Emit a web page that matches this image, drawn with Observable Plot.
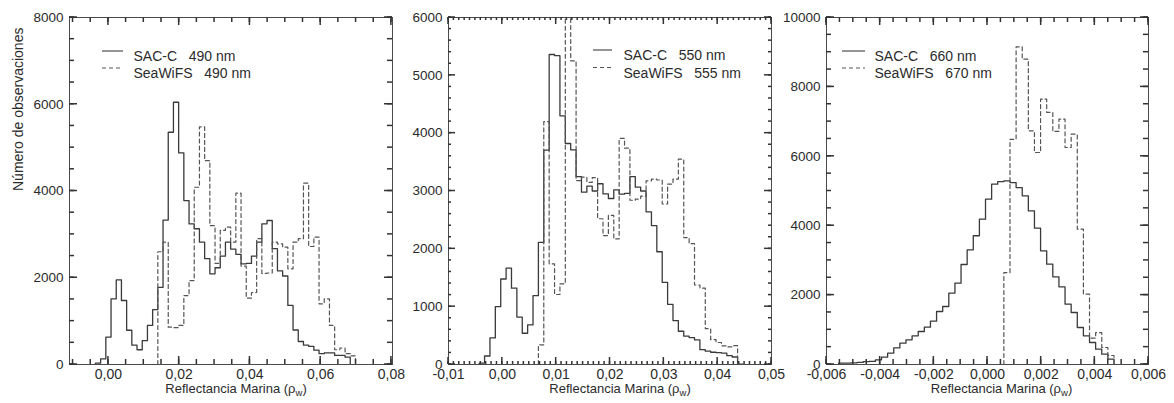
<!DOCTYPE html>
<html>
<head>
<meta charset="utf-8">
<script src="https://cdn.jsdelivr.net/npm/d3@7"></script>
<script src="https://cdn.jsdelivr.net/npm/@observablehq/plot@0.6"></script>
<style>
  html, body { margin: 0; padding: 0; background: #fff; }
  #chart { position: relative; width: 1174px; height: 403px; overflow: hidden; background: #fff; }
  #chart > svg { position: absolute; top: 0; }
</style>
</head>
<body>
<div id="chart"></div>
<script>
// ---------------- DATA ----------------
// Panel 1: 490 nm (first bin edge, bin width, counts per bin)
const sac490Start = -0.00367;
const bin490 = 0.00147;
const sac490 = [30, 130, 630, 1514, 1951, 1475, 790, 445, 340, 550, 900, 1265, 1780, 3330, 5355, 6046, 4880, 3780, 3240, 3130, 2820, 2440, 2090, 2230, 2500, 2820, 2660, 2540, 2320, 2330, 2500, 2820, 3243, 3320, 2670, 2160, 2040, 1362, 795, 530, 445, 420, 330, 250, 270, 270, 210, 210, 170];
const sea490Start = 0.01397;
const sea490 = [2600, 2820, 860, 850, 900, 1590, 1936, 4087, 5480, 4700, 3200, 2330, 3090, 3165, 2820, 3950, 2270, 1530, 1660, 2900, 2100, 2110, 2820, 2780, 2705, 2205, 2820, 2900, 4180, 2720, 2935, 1400, 1514, 900, 340, 380, 250, 200];

// Panel 2: 550 / 555 nm
const sac550Start = -0.0043;
const bin550 = 0.001;
const sac550 = [25, 147, 460, 1000, 1478, 1665, 1320, 820, 540, 685, 1190, 2112, 3706, 5360, 5340, 4300, 3821, 3710, 3250, 2980, 3085, 3000, 3125, 2950, 2870, 3020, 2945, 2960, 3250, 3066, 3000, 2640, 2403, 1950, 1420, 1040, 760, 575, 490, 465, 425, 257, 230, 212, 205, 198, 153, 130, 8];
const sea555Start = 0.0067;
const sea555 = [340, 4200, 1740, 1210, 1395, 6500, 5250, 3180, 3240, 3150, 3230, 2520, 2230, 2580, 2173, 3910, 3740, 2840, 2860, 2910, 3176, 3205, 3190, 2775, 3118, 3205, 3550, 2194, 2090, 1375, 1320, 620, 430, 380, 323, 305, 325];

// Panel 3: 660 / 670 nm
const sac660Start = -0.005546;
const bin660 = 0.000228;
const sac660 = [40, 40, 45, 60, 80, 90, 134, 211, 326, 480, 615, 711, 826, 951, 1076, 1249, 1527, 1672, 2056, 2344, 2882, 3304, 3710, 4188, 4765, 5196, 5273, 5292, 5244, 5100, 4860, 4428, 3928, 3276, 2892, 2527, 2238, 1738, 1499, 1066, 826, 634, 442, 298, 154];
const sea670Start = 0.00061;
const sea670 = [2650, 6490, 9155, 8800, 6735, 6110, 7646, 7263, 6716, 7070, 6254, 6637, 3900, 2026, 760, 920, 490, 260];

// Axis ticks (labelled)
const xTicks490 = [0, 0.02, 0.04, 0.06, 0.08];
const yTicks490 = [0, 2000, 4000, 6000, 8000];
const xTicks550 = [-0.01, 0, 0.01, 0.02, 0.03, 0.04, 0.05];
const yTicks550 = [0, 1000, 2000, 3000, 4000, 5000, 6000];
const xTicks660 = [-0.006, -0.004, -0.002, 0, 0.002, 0.004, 0.006];
const yTicks660 = [0, 2000, 4000, 6000, 8000, 10000];

// Legend and axis texts
const legend490 = ["SAC-C\u00a0\u00a0\u00a0490 nm", "SeaWiFS\u00a0\u00a0\u00a0490 nm"];
const legend550 = ["SAC-C\u00a0\u00a0\u00a0550 nm", "SeaWiFS\u00a0\u00a0\u00a0555 nm"];
const legend660 = ["SAC-C\u00a0\u00a0\u00a0660 nm", "SeaWiFS\u00a0\u00a0\u00a0670 nm"];
const xTitle = "Reflectancia Marina (ρw)";
const yTitle = "Número de observaciones";

// ---------------- HELPERS ----------------
const fontFamily = "'Liberation Sans', Arial, Helvetica, sans-serif";
const textColor = "#2b2b2b";
const axisColor = "#333333";
const HEIGHT = 403, MT = 17, MB = 39;

function steps(start, width, values) {
  const pts = [{x: start, y: 0}];
  values.forEach((v, i) => pts.push({x: start + i * width, y: v}));
  pts.push({x: start + values.length * width, y: 0});
  return pts;
}

function minorTicks(domain, step) {
  const a = Math.ceil(domain[0] / step - 1e-6), b = Math.floor(domain[1] / step + 1e-6);
  return d3.range(a, b + 1).map(i => +(i * step).toPrecision(12));
}

function fmtX(d, digits) {
  return d3.format(`.${digits}f`)(d).replace("−", "-").replace(".", ",");
}

function makePanel(cfg) {
  const xMinor = minorTicks(cfg.xDomain, cfg.xMinorStep);
  const yMinor = minorTicks(cfg.yDomain, cfg.yMinorStep);
  const marks = [];

  // histograms
  marks.push(Plot.line(steps(cfg.sacStart, cfg.bin, cfg.sac), {x: "x", y: "y", curve: "step-after",
    stroke: "#3a3a3a", strokeWidth: 1.3, clip: true}));
  marks.push(Plot.line(steps(cfg.seaStart, cfg.bin, cfg.sea), {x: "x", y: "y", curve: "step-after",
    stroke: "#555", strokeWidth: 1.2, strokeDasharray: "4,3", clip: true}));

  marks.push(Plot.frame({stroke: "#4a4a4a", strokeWidth: 1, fill: "none"}));
  marks.push(Plot.axisX(cfg.xTicks, {anchor: "bottom", tickSize: 0, tickPadding: 5, label: null,
    tickFormat: d => fmtX(d, cfg.xDigits), fontSize: 14, fill: textColor}));
  marks.push(Plot.axisY(cfg.yTicks, {anchor: "left", tickSize: 0, tickPadding: 6, label: null,
    tickFormat: d => String(d), fontSize: 13.5, fill: textColor}));

  // legend samples
  marks.push((index, scales, values, dims) => {
    const g = d3.create("svg:g");
    const lx = dims.marginLeft + cfg.legendLineDx;
    g.append("line").attr("x1", lx).attr("x2", lx + cfg.legendLineLen)
      .attr("y1", dims.marginTop + cfg.legendRows[0]).attr("y2", dims.marginTop + cfg.legendRows[0])
      .attr("stroke", "#7a7a7a").attr("stroke-width", 1.6);
    g.append("line").attr("x1", lx).attr("x2", lx + cfg.legendLineLen)
      .attr("y1", dims.marginTop + cfg.legendRows[1]).attr("y2", dims.marginTop + cfg.legendRows[1])
      .attr("stroke", "#555").attr("stroke-width", 1.2).attr("stroke-dasharray", "4,3");
    return g.node();
  });
  cfg.legend.forEach((t, i) => {
    marks.push(Plot.text([t], {text: d => d, frameAnchor: "top-left", dx: cfg.legendTextDx, dy: cfg.legendRows[i],
      textAnchor: "start", fontSize: 14, fill: textColor}));
  });

  // axis titles
  marks.push(Plot.text([xTitle], {text: d => d, frameAnchor: "bottom", dx: cfg.titleDx, dy: 28,
    fontSize: 13, fill: textColor}));
  if (cfg.showYTitle) {
    marks.push(Plot.text([yTitle], {text: d => d, frameAnchor: "left", dx: -51, rotate: -90,
      fontSize: 14, fill: textColor}));
  }

  // inward ticks on all four sides (drawn last), placed with the plot's x / y scales
  marks.push((index, scales, values, dims) => {
    const top = dims.marginTop, bottom = dims.height - dims.marginBottom;
    const left = dims.marginLeft, right = dims.width - dims.marginRight;
    const g = d3.create("svg:g");
    const seg = (x1, y1, x2, y2) => {
      g.append("line").attr("x1", x1).attr("y1", y1).attr("x2", x2).attr("y2", y2)
        .attr("stroke", axisColor).attr("stroke-width", 1.5);
    };
    for (const [vals, len] of [[xMinor, cfg.minorLen], [cfg.xTicks, cfg.majorLen]]) {
      for (const v of vals) {
        const p = scales.x(v);
        seg(p, bottom, p, bottom - len);
        seg(p, top, p, top + len);
      }
    }
    for (const [vals, len] of [[yMinor, cfg.minorLen], [cfg.yTicks, cfg.majorLen]]) {
      for (const v of vals) {
        const p = scales.y(v);
        seg(left, p, left + len, p);
        seg(right, p, right - len, p);
      }
    }
    return g.node();
  });

  const svg = Plot.plot({
    width: cfg.width, height: HEIGHT,
    marginTop: MT, marginBottom: MB, marginLeft: cfg.marginLeft, marginRight: cfg.marginRight,
    x: {domain: cfg.xDomain, label: null},
    y: {domain: cfg.yDomain, label: null},
    style: {fontFamily, fontSize: "14px", color: textColor, background: "transparent", overflow: "visible"},
    marks
  });
  // subscript w in the x title
  d3.select(svg).selectAll("text").filter(function () { return this.textContent === xTitle; })
    .each(function () {
      const t = d3.select(this);
      t.text(null);
      t.append("tspan").text("Reflectancia Marina (ρ");
      t.append("tspan").text("w").attr("font-size", "9.5px").attr("dy", "3");
      t.append("tspan").text(")").attr("dy", "-3");
    });
  svg.style.left = cfg.left + "px";
  return svg;
}

const chart = document.getElementById("chart");
chart.append(makePanel({
  left: 0, width: 400, marginLeft: 69, marginRight: 8,
  xDomain: [-0.011, 0.0803], yDomain: [0, 8000],
  xTicks: xTicks490, yTicks: yTicks490, xMinorStep: 0.005, yMinorStep: 500, xDigits: 2,
  majorLen: 8, minorLen: 5,
  sacStart: sac490Start, seaStart: sea490Start, bin: bin490, sac: sac490, sea: sea490,
  legend: legend490, legendRows: [34, 51], legendLineDx: 33, legendLineLen: 21, legendTextDx: 64,
  titleDx: 5, showYTitle: true
}));
chart.append(makePanel({
  left: 400, width: 380, marginLeft: 48, marginRight: 9,
  xDomain: [-0.01, 0.05], yDomain: [0, 6000],
  xTicks: xTicks550, yTicks: yTicks550, xMinorStep: 0.001, yMinorStep: 200, xDigits: 2,
  majorLen: 7, minorLen: 3,
  sacStart: sac550Start, seaStart: sea555Start, bin: bin550, sac: sac550, sea: sea555,
  legend: legend550, legendRows: [33, 50.5], legendLineDx: 145, legendLineLen: 19, legendTextDx: 175,
  titleDx: 10, showYTitle: false
}));
chart.append(makePanel({
  left: 780, width: 394, marginLeft: 46, marginRight: 26,
  xDomain: [-0.006, 0.006], yDomain: [0, 10000],
  xTicks: xTicks660, yTicks: yTicks660, xMinorStep: 0.0005, yMinorStep: 500, xDigits: 3,
  majorLen: 8, minorLen: 5,
  sacStart: sac660Start, seaStart: sea670Start, bin: bin660, sac: sac660, sea: sea670,
  legend: legend660, legendRows: [34, 51], legendLineDx: 16, legendLineLen: 23, legendTextDx: 48,
  titleDx: 14, showYTitle: false
}));
</script>
</body>
</html>
